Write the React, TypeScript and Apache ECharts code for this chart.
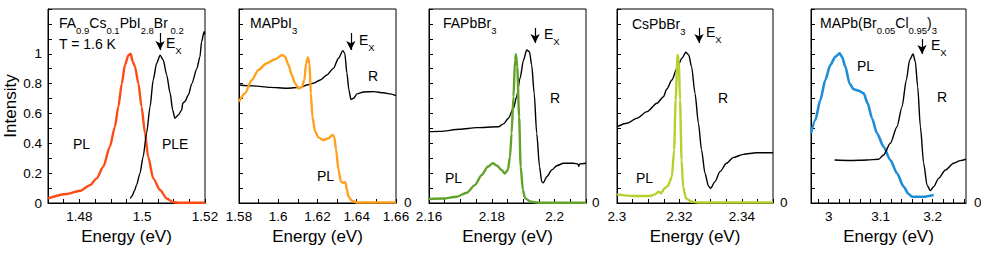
import React, { useEffect, useRef } from 'react';
import * as echarts from 'echarts';

const FONT = '"Liberation Sans", Arial, Helvetica, sans-serif';

// ---------- Data (energy eV, normalized intensity) ----------
const pl1 = [[1.47,0.031],[1.4759,0.06],[1.4802,0.082],[1.4834,0.12],[1.4855,0.165],[1.4876,0.243],[1.4897,0.377],[1.4913,0.51],[1.4924,0.645],[1.4935,0.80],[1.4945,0.925],[1.4956,0.99],[1.4963,1.0],[1.497,0.947],[1.4977,0.913],[1.4988,0.80],[1.4998,0.645],[1.5009,0.467],[1.5019,0.31],[1.5035,0.165],[1.5057,0.087],[1.5078,0.03],[1.5099,0.005],[1.512,0.002],[1.52,0.002]];
const ple1 = [[1.4962,0.03],[1.4967,0.045],[1.4975,0.08],[1.4982,0.12],[1.4993,0.2],[1.5003,0.31],[1.5014,0.467],[1.5025,0.645],[1.5035,0.824],[1.5046,0.936],[1.5057,0.99],[1.5067,0.958],[1.5078,0.858],[1.5089,0.735],[1.5097,0.623],[1.5104,0.568],[1.5115,0.59],[1.5126,0.623],[1.5129,0.668],[1.5136,0.68],[1.5147,0.724],[1.5158,0.80],[1.5174,0.90],[1.5184,0.98],[1.5189,1.08],[1.5197,1.148],[1.52,1.13]];

const pl2 = [[1.58,0.679],[1.5831,0.735],[1.5865,0.824],[1.5899,0.891],[1.5941,0.936],[1.5984,0.963],[1.6021,0.992],[1.6035,0.98],[1.6052,0.925],[1.6069,0.858],[1.6086,0.80],[1.6103,0.769],[1.612,0.775],[1.6133,0.824],[1.6142,0.936],[1.6151,0.976],[1.6159,0.936],[1.6166,0.735],[1.6174,0.579],[1.6188,0.478],[1.6205,0.44],[1.623,0.422],[1.6256,0.434],[1.6276,0.456],[1.6285,0.445],[1.6295,0.355],[1.6307,0.221],[1.6319,0.143],[1.6332,0.136],[1.6342,0.14],[1.635,0.087],[1.6358,0.042],[1.6375,0.015],[1.64,0.003],[1.66,0.003]];
const r2 = [[1.58,0.791],[1.5874,0.785],[1.5958,0.775],[1.6044,0.769],[1.6116,0.775],[1.6146,0.791],[1.6179,0.802],[1.6214,0.824],[1.6248,0.858],[1.6281,0.902],[1.6307,0.97],[1.6329,1.021],[1.6339,1.003],[1.635,0.869],[1.636,0.757],[1.637,0.695],[1.6384,0.702],[1.6401,0.731],[1.6435,0.744],[1.6486,0.746],[1.6537,0.739],[1.6571,0.731],[1.66,0.719]];

const pl3 = [[2.16,0.027],[2.1645,0.03],[2.1688,0.042],[2.172,0.069],[2.1746,0.12],[2.1768,0.188],[2.1787,0.243],[2.1803,0.266],[2.1817,0.25],[2.1831,0.221],[2.1842,0.198],[2.1851,0.221],[2.1858,0.31],[2.1863,0.467],[2.1869,0.712],[2.1874,0.958],[2.1877,0.997],[2.1881,0.914],[2.1887,0.578],[2.1892,0.243],[2.1899,0.087],[2.1906,0.031],[2.1925,0.008],[2.195,0.002],[2.21,0.002]];
const r3 = [[2.16,0.478],[2.1635,0.48],[2.1698,0.494],[2.1751,0.505],[2.1821,0.511],[2.1837,0.53],[2.1853,0.568],[2.1869,0.635],[2.1879,0.712],[2.189,0.836],[2.1901,0.958],[2.1911,1.025],[2.192,1.014],[2.1927,0.925],[2.1935,0.735],[2.1943,0.467],[2.1952,0.243],[2.1959,0.143],[2.1964,0.136],[2.1975,0.176],[2.1991,0.221],[2.2007,0.25],[2.2028,0.266],[2.206,0.266],[2.2074,0.262],[2.2077,0.245],[2.208,0.262],[2.21,0.266]];

const pl4 = [[2.3,0.058],[2.3053,0.047],[2.3106,0.047],[2.3122,0.058],[2.3133,0.076],[2.3141,0.065],[2.3152,0.098],[2.3163,0.114],[2.3176,0.176],[2.3183,0.355],[2.3188,0.69],[2.3194,0.992],[2.3198,0.96],[2.3202,0.69],[2.3207,0.288],[2.3212,0.109],[2.3221,0.031],[2.3239,0.009],[2.326,0.003],[2.35,0.003]];
const r4 = [[2.3,0.511],[2.3032,0.534],[2.3064,0.568],[2.3096,0.612],[2.3128,0.668],[2.3149,0.712],[2.3159,0.762],[2.3176,0.824],[2.3192,0.902],[2.3208,0.97],[2.3221,1.01],[2.323,0.992],[2.3239,0.914],[2.325,0.735],[2.3261,0.534],[2.3271,0.355],[2.3282,0.199],[2.3293,0.114],[2.33,0.098],[2.3314,0.143],[2.333,0.21],[2.3351,0.266],[2.3372,0.304],[2.3404,0.326],[2.3447,0.337],[2.3479,0.337],[2.35,0.337]];

const pl5 = [[2.966,0.467],[2.9743,0.556],[2.9839,0.69],[2.9935,0.824],[3.0031,0.925],[3.0127,0.98],[3.021,1.003],[3.0256,0.98],[3.032,0.914],[3.0402,0.80],[3.048,0.762],[3.0575,0.753],[3.0672,0.735],[3.0749,0.668],[3.0833,0.568],[3.0929,0.467],[3.1056,0.377],[3.1185,0.288],[3.1314,0.199],[3.1441,0.109],[3.1537,0.06],[3.1602,0.042],[3.1825,0.042],[3.2018,0.054]];
const r5 = [[3.0114,0.288],[3.0416,0.285],[3.0737,0.288],[3.096,0.293],[3.1056,0.322],[3.1185,0.40],[3.1314,0.511],[3.141,0.645],[3.1493,0.824],[3.1556,0.958],[3.1622,0.999],[3.1666,0.947],[3.1711,0.78],[3.1763,0.511],[3.1826,0.266],[3.1891,0.12],[3.1955,0.083],[3.2018,0.109],[3.2114,0.165],[3.2243,0.221],[3.2402,0.266],[3.253,0.284],[3.264,0.293]];

// ---------- Axis ticks / labels ----------
const xTicks1 = [1.47,1.475,1.48,1.485,1.49,1.495,1.5,1.505,1.51,1.515,1.52];
const xLabels1 = [1.48,1.5,1.52];
const xTicks2 = [1.58,1.59,1.6,1.61,1.62,1.63,1.64,1.65,1.66];
const xLabels2 = [1.58,1.6,1.62,1.64,1.66];
const xTicks3 = [2.16,2.165,2.17,2.175,2.18,2.185,2.19,2.195,2.2,2.205,2.21];
const xLabels3 = [2.16,2.18,2.2];
const xTicks4 = [2.3,2.305,2.31,2.315,2.32,2.325,2.33,2.335,2.34,2.345,2.35];
const xLabels4 = [2.3,2.32,2.34];
const xTicks5 = [2.98,3,3.02,3.04,3.06,3.08,3.1,3.12,3.14,3.16,3.18,3.2,3.22,3.24,3.26];
const xLabels5 = [3,3.1,3.2];
const yTicks = [0,0.1,0.2,0.3,0.4,0.5,0.6,0.7,0.8,0.9,1,1.1,1.2,1.3];
const yLabels = [0,0.2,0.4,0.6,0.8,1];
const rightZeroLabel = '0';

const fmt = (v: number) => String(parseFloat(Number(v).toFixed(4)));

const panels = [
  { left: 48, width: 157, min: 1.47, max: 1.52, ticks: xTicks1, labels: xLabels1 },
  { left: 239, width: 157, min: 1.58, max: 1.66, ticks: xTicks2, labels: xLabels2 },
  { left: 429, width: 157, min: 2.16, max: 2.21, ticks: xTicks3, labels: xLabels3 },
  { left: 617, width: 156, min: 2.3, max: 2.35, ticks: xTicks4, labels: xLabels4 },
  { left: 811, width: 155, min: 2.966, max: 3.264, ticks: xTicks5, labels: xLabels5 },
];

const TOP = 9;
const HEIGHT = 194;

const grids = panels.map((p) => ({
  left: p.left, top: TOP, width: p.width, height: HEIGHT,
  show: true, borderColor: '#000', borderWidth: 1, backgroundColor: 'transparent',
}));

const xAxes = panels.map((p, i) => ({
  type: 'value', gridIndex: i, min: p.min, max: p.max,
  name: 'Energy (eV)', nameLocation: 'middle', nameGap: 25,
  nameTextStyle: { fontFamily: FONT, fontSize: 17, color: '#000' },
  axisLine: { show: true, lineStyle: { color: '#000', width: 1 } },
  axisTick: { show: true, inside: true, length: 4, customValues: p.ticks, lineStyle: { color: '#000', width: 1 } },
  axisLabel: { show: true, customValues: p.labels, margin: 6, fontFamily: FONT, fontSize: 13.5, color: '#000', formatter: fmt, showMinLabel: true, showMaxLabel: true },
  splitLine: { show: false },
}));

const yAxes: any[] = panels.map((p, i) => ({
  type: 'value', gridIndex: i, min: 0, max: 1.3, position: 'left',
  name: i === 0 ? 'Intensity' : '', nameLocation: 'middle', nameGap: 29, nameRotate: 90,
  nameTextStyle: { fontFamily: FONT, fontSize: 17, color: '#000' },
  axisLine: { show: true, lineStyle: { color: '#000', width: 1 } },
  axisTick: { show: true, inside: true, length: 4, customValues: yTicks, lineStyle: { color: '#000', width: 1 } },
  axisLabel: { show: i === 0, customValues: yLabels, margin: 6, fontFamily: FONT, fontSize: 13.5, color: '#000', formatter: fmt },
  splitLine: { show: false },
}));

const arrow = (e: number, y1: number, y2: number) => ({
  silent: true,
  symbol: ['none', 'arrow'],
  symbolSize: [7, 9],
  label: { show: false },
  lineStyle: { color: '#000', width: 1.2, type: 'solid' },
  data: [[{ coord: [e, y1] }, { coord: [e, y2] }]],
});

const line = (data: number[][], idx: number, color: string, width: number, mark?: any) => ({
  type: 'line', xAxisIndex: idx, yAxisIndex: idx, data,
  showSymbol: false, symbol: 'none', smooth: 0.25, smoothMonotone: 'x',
  lineStyle: { color, width }, itemStyle: { color }, z: 2,
  ...(mark ? { markLine: mark } : {}),
});

const series = [
  line(pl1, 0, '#FF4A14', 2.4),
  line(ple1, 0, '#000', 1.4, arrow(1.5057, 1.139, 1.025)),
  line(r2, 1, '#000', 1.4, arrow(1.637, 1.139, 1.025)),
  line(pl2, 1, '#FFA01E', 2.4),
  line(r3, 2, '#000', 1.4, arrow(2.1938, 1.173, 1.072)),
  line(pl3, 2, '#62A22A', 2.4),
  line(r4, 3, '#000', 1.4, arrow(2.3263, 1.173, 1.072)),
  line(pl4, 3, '#B4D22E', 2.4),
  line(pl5, 4, '#1C8DD6', 2.6),
  line(r5, 4, '#000', 1.4, arrow(3.1795, 1.099, 0.999)),
];

const rich = {
  m: { fontFamily: FONT, fontSize: 14, fill: '#000' },
  s: { fontFamily: FONT, fontSize: 9.5, fill: '#000', padding: [14, 0, 0, 0] },
};

const txt = (x: number, y: number, text: string) => ({
  type: 'text', x, y, silent: true,
  style: { text, rich, fontFamily: FONT, fontSize: 14, fill: '#000', align: 'left', verticalAlign: 'middle' },
});

const zero = (x: number) => ({
  type: 'text', x, y: 202, silent: true,
  style: { text: rightZeroLabel, fontFamily: FONT, fontSize: 13.5, fill: '#000', align: 'left', verticalAlign: 'middle' },
});

const graphic = [
  txt(59, 23, '{m|FA}{s|0.9}{m|Cs}{s|0.1}{m|PbI}{s|2.8}{m|Br}{s| 0.2}'),
  txt(59, 44, '{m|T = 1.6 K}'),
  txt(166, 43, '{m|E}{s|X}'),
  txt(73, 144, '{m|PL}'),
  txt(162, 144, '{m|PLE}'),

  txt(250, 23, '{m|MAPbI}{s|3}'),
  txt(359, 40, '{m|E}{s|X}'),
  txt(368, 76, '{m|R}'),
  txt(317, 176, '{m|PL}'),

  txt(443, 23, '{m|FAPbBr}{s|3}'),
  txt(544, 34, '{m|E}{s|X}'),
  txt(550, 98, '{m|R}'),
  txt(445, 178, '{m|PL}'),

  txt(632, 24, '{m|CsPbBr}{s|3}'),
  txt(706, 32, '{m|E}{s|X}'),
  txt(718, 98, '{m|R}'),
  txt(636, 178, '{m|PL}'),

  txt(820, 23, '{m|MAPb(Br}{s|0.05}{m|Cl}{s|0.95}{m|)}{s|3}'),
  txt(931, 45, '{m|E}{s|X}'),
  txt(937, 97, '{m|R}'),
  txt(857, 66, '{m|PL}'),

  zero(404),
  zero(592),
  zero(780),
  zero(974),
];

const option = {
  animation: false,
  backgroundColor: '#fff',
  grid: grids,
  xAxis: xAxes,
  yAxis: yAxes,
  series,
  graphic,
};

export default function App() {
  const ref = useRef<HTMLDivElement>(null);
  useEffect(() => {
    document.body.style.margin = '0';
    const chart = echarts.init(ref.current as HTMLDivElement, null, { renderer: 'svg' });
    chart.setOption(option as any);
    return () => chart.dispose();
  }, []);
  return <div ref={ref} style={{ width: 981, height: 264 }} />;
}
